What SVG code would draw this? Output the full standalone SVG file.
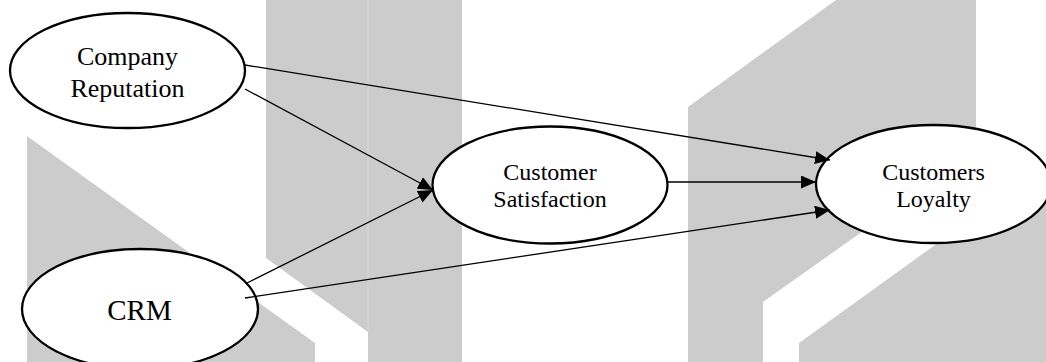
<svg xmlns="http://www.w3.org/2000/svg" width="1046" height="362" viewBox="0 0 1046 362">
  <style>
    .bg { fill: #cccccc; stroke: none; }
    .node ellipse { fill: #ffffff; stroke: #000000; stroke-width: 2.3; }
    .node text { font-family: "Liberation Serif", "Times New Roman", serif; fill: #000000; text-anchor: middle; }
    .edge { stroke: #000000; stroke-width: 1.3; fill: none; marker-end: url(#arrow); }
  </style>
  <defs>
    <marker id="arrow" markerUnits="userSpaceOnUse" markerWidth="16" markerHeight="14" refX="15" refY="6.5" orient="auto">
      <path d="M0,0 L15,6.5 L0,13 Z" fill="#000000"/>
    </marker>
  </defs>
  <rect width="1046" height="362" fill="#ffffff"/>
  <g id="background">
    <polygon class="bg" points="27,136 315,343 315,362 27,362"/>
    <polygon class="bg" points="266,0 462,0 462,362 368,362 368,332 266,258"/>
    <line x1="368" y1="0" x2="368" y2="332" stroke="#d6d6d6" stroke-width="1"/>
    <polygon class="bg" points="688,107 836,0 976,0 976,151 763,302 763,362 688,362"/>
    <polygon class="bg" points="799,343 1046,165 1046,362 799,362"/>
  </g>
  <g id="node-company-reputation" class="node">
    <ellipse cx="127.5" cy="70.5" rx="117.5" ry="57.5"/>
    <text x="127.5" y="65" font-size="26">Company</text>
    <text x="127.5" y="97" font-size="26">Reputation</text>
  </g>
  <g id="node-crm" class="node">
    <ellipse cx="140" cy="309" rx="118" ry="60"/>
    <text x="139.5" y="320" font-size="29">CRM</text>
  </g>
  <g id="node-customer-satisfaction" class="node">
    <ellipse cx="550" cy="185" rx="117.5" ry="58.5"/>
    <text x="550" y="180" font-size="24">Customer</text>
    <text x="550" y="207" font-size="24">Satisfaction</text>
  </g>
  <g id="node-customers-loyalty" class="node">
    <ellipse cx="933.5" cy="184" rx="117.5" ry="59"/>
    <text x="933.5" y="180" font-size="24">Customers</text>
    <text x="933.5" y="207" font-size="24">Loyalty</text>
  </g>
  <g id="connectors">
    <line class="edge" x1="245" y1="65" x2="830" y2="160"/>
    <line class="edge" x1="245" y1="89" x2="433" y2="190"/>
    <line class="edge" x1="247" y1="283" x2="433" y2="190"/>
    <line class="edge" x1="245" y1="298" x2="830" y2="210"/>
    <line class="edge" x1="667" y1="182" x2="816" y2="182"/>
  </g>
</svg>
